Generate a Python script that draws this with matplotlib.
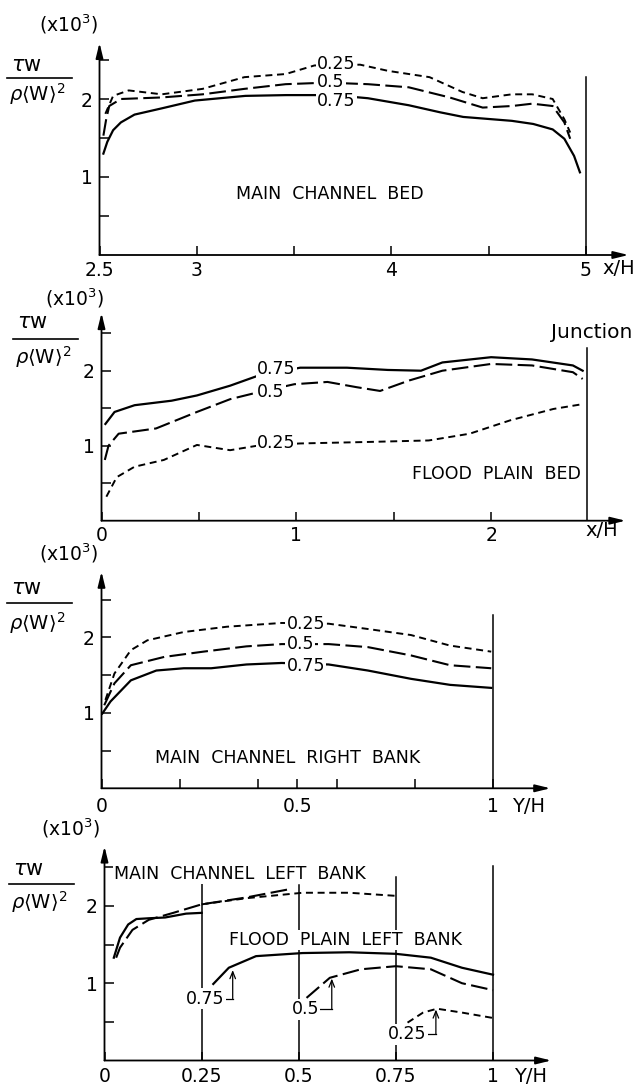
import matplotlib
matplotlib.use('Agg')
import matplotlib.pyplot as plt
from matplotlib.lines import Line2D

plt.rcParams['font.family'] = ['DejaVu Sans']
plt.rcParams['mathtext.fontset'] = 'dejavusans'

# ---------------- DATA ----------------
# Panel 1: main channel bed (x/H)
p1_x_075 = [2.52, 2.54, 2.57, 2.61, 2.68, 2.82, 2.99, 3.25, 3.46, 3.70, 3.88, 4.09, 4.25, 4.37, 4.62, 4.73, 4.83, 4.89, 4.94, 4.97]
p1_y_075 = [1.30, 1.45, 1.60, 1.70, 1.80, 1.88, 1.98, 2.04, 2.05, 2.05, 2.01, 1.92, 1.83, 1.77, 1.72, 1.68, 1.61, 1.49, 1.27, 1.06]
p1_x_050 = [2.52, 2.535, 2.55, 2.61, 2.82, 3.03, 3.245, 3.457, 3.67, 3.88, 4.09, 4.30, 4.47, 4.62, 4.725, 4.83, 4.89, 4.92]
p1_y_050 = [1.53, 1.75, 1.91, 2.00, 2.02, 2.06, 2.13, 2.19, 2.21, 2.19, 2.15, 2.02, 1.89, 1.91, 1.94, 1.91, 1.70, 1.49]
p1_x_025 = [2.53, 2.57, 2.65, 2.82, 3.03, 3.245, 3.457, 3.605, 3.84, 3.985, 4.197, 4.366, 4.47, 4.62, 4.725, 4.83, 4.89, 4.92]
p1_y_025 = [1.81, 2.04, 2.11, 2.06, 2.13, 2.28, 2.32, 2.43, 2.44, 2.36, 2.28, 2.09, 2.01, 2.06, 2.06, 2.00, 1.74, 1.57]
p1_xticks = [2.5, 3, 3.5, 4, 4.5, 5]
p1_xlabels = ['2.5', '3', '', '4', '', '5']

# Panel 2: flood plain bed (x/H)
p2_x_075 = [0.02, 0.067, 0.17, 0.36, 0.49, 0.66, 0.80, 1.02, 1.26, 1.47, 1.64, 1.75, 2.00, 2.21, 2.42, 2.47]
p2_y_075 = [1.29, 1.45, 1.54, 1.60, 1.67, 1.80, 1.93, 2.04, 2.04, 2.01, 2.00, 2.11, 2.18, 2.15, 2.07, 2.00]
p2_x_050 = [0.017, 0.036, 0.088, 0.28, 0.49, 0.66, 0.80, 0.99, 1.16, 1.31, 1.43, 1.58, 1.75, 2.00, 2.21, 2.42, 2.47]
p2_y_050 = [0.81, 1.00, 1.16, 1.23, 1.45, 1.62, 1.71, 1.82, 1.85, 1.78, 1.73, 1.87, 2.00, 2.09, 2.07, 1.98, 1.89]
p2_x_025 = [0.025, 0.078, 0.17, 0.32, 0.49, 0.66, 0.80, 1.02, 1.37, 1.68, 1.89, 2.10, 2.32, 2.46]
p2_y_025 = [0.32, 0.58, 0.72, 0.81, 1.01, 0.94, 1.00, 1.03, 1.05, 1.07, 1.16, 1.34, 1.49, 1.55]
p2_xticks = [0, 0.5, 1, 1.5, 2]
p2_xlabels = ['0', '', '1', '', '2']

# Panel 3: main channel right bank (Y/H)
p3_x_025 = [0.01, 0.033, 0.075, 0.117, 0.21, 0.32, 0.46, 0.58, 0.68, 0.79, 0.89, 0.995]
p3_y_025 = [1.17, 1.52, 1.83, 1.96, 2.07, 2.14, 2.19, 2.18, 2.11, 2.03, 1.89, 1.81]
p3_x_050 = [0.007, 0.033, 0.075, 0.16, 0.26, 0.37, 0.46, 0.58, 0.68, 0.79, 0.89, 0.995]
p3_y_050 = [1.10, 1.39, 1.63, 1.74, 1.81, 1.88, 1.91, 1.91, 1.87, 1.76, 1.63, 1.59]
p3_x_075 = [0.002, 0.023, 0.075, 0.14, 0.21, 0.28, 0.37, 0.46, 0.58, 0.68, 0.79, 0.89, 0.995]
p3_y_075 = [0.99, 1.15, 1.43, 1.56, 1.59, 1.59, 1.64, 1.66, 1.64, 1.56, 1.45, 1.37, 1.33]
p3_xticks = [0, 0.2, 0.4, 0.5, 0.6, 0.8, 1.0]
p3_xlabels = ['0', '', '', '0.5', '', '', '1']

# Panel 4: left banks (Y/H)
p4_main_x_075 = [0.024, 0.04, 0.061, 0.082, 0.114, 0.156, 0.21, 0.25]
p4_main_y_075 = [1.33, 1.59, 1.76, 1.83, 1.84, 1.85, 1.90, 1.91]
p4_main_x_050 = [0.03, 0.04, 0.072, 0.114, 0.177, 0.25, 0.366, 0.48]
p4_main_y_050 = [1.33, 1.46, 1.69, 1.82, 1.91, 2.02, 2.11, 2.22]
p4_main_x_025 = [0.25, 0.366, 0.51, 0.63, 0.75]
p4_main_y_025 = [2.02, 2.10, 2.17, 2.17, 2.13]
p4_fp_x_075 = [0.28, 0.32, 0.39, 0.51, 0.63, 0.75, 0.84, 0.92, 1.0]
p4_fp_y_075 = [0.99, 1.20, 1.35, 1.39, 1.40, 1.38, 1.33, 1.20, 1.11]
p4_fp_x_050 = [0.52, 0.58, 0.66, 0.75, 0.84, 0.92, 1.0]
p4_fp_y_050 = [0.81, 1.07, 1.18, 1.22, 1.18, 1.00, 0.91]
p4_fp_x_025 = [0.78, 0.82, 0.856, 0.92, 1.0]
p4_fp_y_025 = [0.49, 0.62, 0.67, 0.62, 0.55]
p4_xticks = [0, 0.25, 0.5, 0.75, 1.0]
p4_xlabels = ['0', '0.25', '0.5', '0.75', '1']

y_ticks = [0.5, 1, 1.5, 2, 2.5]
y_labels = ['', '1', '', '2', '']

# ---------------- FIGURE ----------------
W, H = 642, 1090
fig = plt.figure(figsize=(W / 100, H / 100), dpi=100)

LW_SOLID = 1.6
LONG = dict(lw=1.5, dashes=(8.0, 2.6))
SHORT = dict(lw=1.4, dashes=(3.6, 2.4))
LBL = dict(fontsize=12.5, ha='left', va='center', zorder=6,
           bbox=dict(facecolor='white', edgecolor='none', pad=1.0))
TXT = dict(fontsize=12.5, zorder=6)


def make_panel(x0, px_x0, sx, xmax, py0, sy, ymax, xticks, xlabels, xpad):
    left = px_x0
    right = px_x0 + (xmax - x0) * sx
    top = py0 - ymax * sy
    ax = fig.add_axes([left / W, 1 - py0 / H, (right - left) / W, (py0 - top) / H])
    ax.set_xlim(x0, xmax)
    ax.set_ylim(0, ymax)
    for s in ax.spines.values():
        s.set_visible(False)
    ax.patch.set_alpha(0)
    arrow = dict(arrowstyle='-|>,head_length=0.9,head_width=0.22', lw=1.3,
                 color='k', shrinkA=0, shrinkB=0)
    ax.annotate('', xy=(1, 0), xytext=(0, 0), xycoords='axes fraction', arrowprops=arrow)
    ax.annotate('', xy=(0, 1), xytext=(0, 0), xycoords='axes fraction', arrowprops=arrow)
    ax.set_xticks(xticks)
    ax.set_xticklabels(xlabels)
    ax.set_yticks(y_ticks)
    ax.set_yticklabels(y_labels)
    ax.tick_params(axis='both', direction='in', length=6.5, width=1.1, labelsize=13.5)
    ax.tick_params(axis='x', pad=xpad)
    ax.tick_params(axis='y', pad=5)
    return ax


def ylabel(xl, y_exp, y_tau, y_bar, y_rho):
    fig.text((xl + 60) / W, 1 - y_exp / H, r'(x10$^{3}$)', fontsize=13.5,
             ha='center', va='center')
    fig.text((xl + 2) / W, 1 - y_tau / H, r'$\tau$w', fontsize=15,
             ha='left', va='center')
    fig.add_artist(Line2D([(xl - 2) / W, (xl + 63) / W], [1 - y_bar / H, 1 - y_bar / H],
                          color='k', lw=1.2))
    fig.text(xl / W, 1 - y_rho / H, r'$\rho\langle\mathrm{W}\rangle^{2}$', fontsize=14,
             ha='left', va='center')


# ---- Panel 1 ----
ax1 = make_panel(2.5, 99.5, 194.5, 5.22, 255.0, 78.0, 2.72, p1_xticks, p1_xlabels, 4)
ax1.plot(p1_x_075, p1_y_075, color='k', lw=LW_SOLID)
ax1.plot(p1_x_050, p1_y_050, color='k', **LONG)
ax1.plot(p1_x_025, p1_y_025, color='k', **SHORT)
ax1.plot([5, 5], [0, 2.28], color='k', lw=1.1)
ax1.text(3.62, 2.45, '0.25', **LBL)
ax1.text(3.62, 2.22, '0.5', **LBL)
ax1.text(3.62, 1.97, '0.75', **LBL)
ax1.text(3.20, 0.78, 'MAIN  CHANNEL  BED', ha='left', va='center', **TXT)
fig.text(602 / W, 1 - 268 / H, 'x/H', fontsize=14, ha='left', va='center')
ylabel(9, 24, 65, 78, 94)

# ---- Panel 2 ----
ax2 = make_panel(0, 101.5, 194.8, 2.69, 520.7, 75.0, 2.77, p2_xticks, p2_xlabels, 4)
ax2.plot(p2_x_075, p2_y_075, color='k', lw=LW_SOLID)
ax2.plot(p2_x_050, p2_y_050, color='k', **LONG)
ax2.plot(p2_x_025, p2_y_025, color='k', **SHORT)
ax2.plot([2.49, 2.49], [0, 2.30], color='k', lw=1.1)
ax2.text(0.80, 2.02, '0.75', **LBL)
ax2.text(0.80, 1.71, '0.5', **LBL)
ax2.text(0.80, 1.03, '0.25', **LBL)
ax2.text(2.46, 0.62, 'FLOOD  PLAIN  BED', ha='right', va='center', **TXT)
fig.text(551 / W, 1 - 333 / H, 'Junction', fontsize=14.5, ha='left', va='center')
fig.text(585 / W, 1 - 531 / H, 'x/H', fontsize=14, ha='left', va='center')
ylabel(15, 298, 322, 339, 357)

# ---- Panel 3 ----
ax3 = make_panel(0, 101.5, 391.7, 1.146, 788.3, 75.5, 2.87, p3_xticks, p3_xlabels, 6)
ax3.plot(p3_x_075, p3_y_075, color='k', lw=LW_SOLID)
ax3.plot(p3_x_050, p3_y_050, color='k', **LONG)
ax3.plot(p3_x_025, p3_y_025, color='k', **SHORT)
ax3.plot([1, 1], [0, 2.29], color='k', lw=1.1)
ax3.text(0.472, 2.17, '0.25', **LBL)
ax3.text(0.472, 1.91, '0.5', **LBL)
ax3.text(0.472, 1.62, '0.75', **LBL)
ax3.text(0.136, 0.40, 'MAIN  CHANNEL  RIGHT  BANK', ha='left', va='center', **TXT)
fig.text(512 / W, 1 - 807 / H, 'Y/H', fontsize=14, ha='left', va='center')
ylabel(9, 553, 588, 603, 623)

# ---- Panel 4 ----
ax4 = make_panel(0, 104.5, 388.5, 1.15, 1060.5, 77.3, 2.77, p4_xticks, p4_xlabels, 4.5)
for xv, ytop in [(0.25, 2.28), (0.5, 2.27), (0.75, 2.38), (1.0, 2.51)]:
    ax4.plot([xv, xv], [0, ytop], color='k', lw=1.1, zorder=2)
ax4.plot(p4_main_x_075, p4_main_y_075, color='k', lw=LW_SOLID)
ax4.plot(p4_main_x_050, p4_main_y_050, color='k', **LONG)
ax4.plot(p4_main_x_025, p4_main_y_025, color='k', **SHORT)
ax4.plot(p4_fp_x_075, p4_fp_y_075, color='k', lw=LW_SOLID)
ax4.plot(p4_fp_x_050, p4_fp_y_050, color='k', **LONG)
ax4.plot(p4_fp_x_025, p4_fp_y_025, color='k', **SHORT)
ax4.text(0.024, 2.41, 'MAIN  CHANNEL  LEFT  BANK', ha='left', va='center',
         bbox=dict(facecolor='white', edgecolor='none', pad=0.5), **TXT)
ax4.text(0.32, 1.56, 'FLOOD  PLAIN  LEFT  BANK', ha='left', va='center',
         bbox=dict(facecolor='white', edgecolor='none', pad=1.0), **TXT)
# curve labels with hooked arrows
for lab, xc, yl, xb, ytip in [('0.75', 0.26, 0.80, 0.33, 1.17),
                              ('0.5', 0.517, 0.66, 0.585, 1.06),
                              ('0.25', 0.78, 0.34, 0.853, 0.66)]:
    ax4.text(xc, yl, lab, fontsize=12.5, ha='center', va='center', zorder=6,
             bbox=dict(facecolor='white', edgecolor='none', pad=1.0))
    ax4.plot([xc + 0.047 if len(lab) > 3 else xc + 0.037, xb], [yl, yl], color='k', lw=0.9)
    ax4.annotate('', xy=(xb, ytip), xytext=(xb, yl),
                 arrowprops=dict(arrowstyle='->,head_length=0.5,head_width=0.2', lw=0.9,
                                 color='k', shrinkA=0, shrinkB=0))
fig.text(514 / W, 1 - 1076 / H, 'Y/H', fontsize=14, ha='left', va='center')
ylabel(11, 828, 869, 884, 902)

fig.savefig('out.png', dpi=100)
